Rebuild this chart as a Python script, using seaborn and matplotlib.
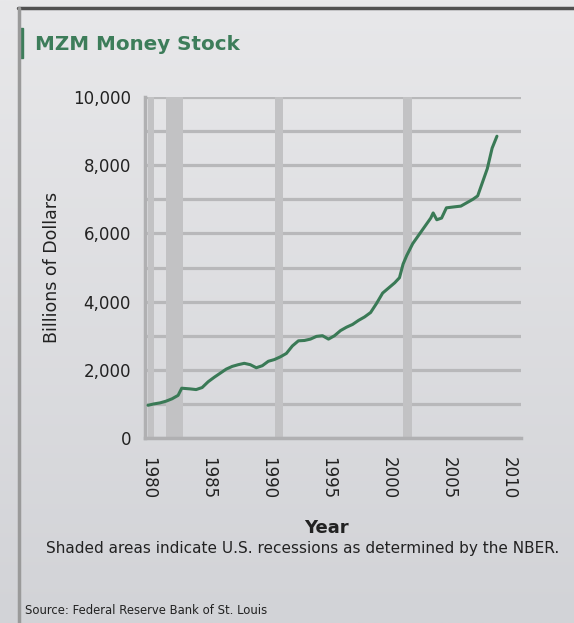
import numpy as np
import pandas as pd
import matplotlib
matplotlib.use("Agg")
import matplotlib.pyplot as plt
from matplotlib.lines import Line2D
from matplotlib.patches import Rectangle
import seaborn as sns

# ---- data ----
years = [1980.0, 1980.5, 1981.0, 1981.5, 1982.0, 1982.5, 1982.8, 1983.5, 1984.0, 1984.5,
         1985.0, 1985.5, 1986.0, 1986.5, 1987.0, 1987.5, 1988.0, 1988.5, 1989.0, 1989.5,
         1990.0, 1990.5, 1991.0, 1991.5, 1992.0, 1992.5, 1993.0, 1993.5, 1994.0, 1994.5,
         1995.0, 1995.5, 1996.0, 1996.5, 1997.0, 1997.5, 1998.0, 1998.5, 1999.0, 1999.5,
         2000.0, 2000.5, 2000.9, 2001.2, 2001.5, 2002.0, 2002.5, 2003.0, 2003.5, 2003.7,
         2004.0, 2004.4, 2004.8, 2005.5, 2006.0, 2006.5, 2007.0, 2007.4, 2007.8, 2008.2,
         2008.6, 2009.0]
mzm = [960, 1000, 1030, 1080, 1150, 1250, 1460, 1440, 1420, 1480,
       1650, 1780, 1900, 2020, 2100, 2150, 2190, 2150, 2060, 2120,
       2250, 2300, 2380, 2480, 2700, 2850, 2860, 2900, 2980, 3000,
       2900, 3000, 3150, 3250, 3330, 3450, 3550, 3680, 3950, 4250,
       4400, 4550, 4700, 5100, 5350, 5700, 5950, 6200, 6450, 6600,
       6400, 6450, 6750, 6780, 6800, 6900, 7000, 7100, 7500, 7900,
       8500, 8850]
recession_start = [1980.0, 1981.5, 1990.55, 2001.2]
recession_end = [1980.5, 1982.9, 1991.2, 2001.9]
x_ticks = [1980, 1985, 1990, 1995, 2000, 2005, 2010]
y_ticks = [0, 2000, 4000, 6000, 8000, 10000]
y_tick_labels = ["0", "2,000", "4,000", "6,000", "8,000", "10,000"]

df = pd.DataFrame({"Year": years, "MZM": mzm})

sns.set_style("white")
plt.rcParams["font.family"] = ["DejaVu Sans"]

W, H = 574, 623
fig = plt.figure(figsize=(W / 100, H / 100), dpi=100)

# background gradient
bg = fig.add_axes([0, 0, 1, 1], zorder=-10)
top = np.array([0xe8, 0xe8, 0xea]) / 255
bot = np.array([0xd2, 0xd3, 0xd7]) / 255
t = np.linspace(0, 1, 256)[:, None]
grad = (top[None, :] * (1 - t) + bot[None, :] * t)[:, None, :]
bg.imshow(grad, aspect="auto", extent=[0, 1, 0, 1])
bg.axis("off")

# frame lines and accent bar
fig.add_artist(Line2D([18 / W, 1], [1 - 8 / H] * 2, color="#505050", lw=2.5))
fig.add_artist(Line2D([19 / W] * 2, [0, 1 - 8 / H], color="#9a9a9a", lw=2.5))
fig.add_artist(Rectangle((19 / W, 1 - 58 / H), 4 / W, 30 / H, color="#3d7d5a",
                         transform=fig.transFigure))
fig.text(35 / W, 1 - 45 / H, "MZM Money Stock", color="#3d7d5a", fontsize=14.3,
         fontweight="bold", va="center", ha="left")

ax = fig.add_axes([145 / W, 1 - 438 / H, (521 - 145) / W, (438 - 97) / H])
ax.set_facecolor("none")

for s, e in zip(recession_start, recession_end):
    ax.axvspan(s, e, color="#c2c2c4", lw=0, zorder=1)

for yv in range(0, 10001, 1000):
    ax.axhline(yv, color="#b8b8ba", lw=2.3, zorder=0.5)

sns.lineplot(data=df, x="Year", y="MZM", ax=ax, color="#3a7a56", lw=2.2, zorder=3)

ax.set_xlim(1979.75, 2011.0)
ax.set_ylim(0, 10000)
ax.set_xticks(x_ticks)
ax.set_xticklabels([str(v) for v in x_ticks], rotation=-90, fontsize=12, color="#222222")
ax.set_yticks(y_ticks)
ax.set_yticklabels(y_tick_labels, fontsize=12, color="#222222")
ax.tick_params(axis="y", pad=10, length=0)
ax.tick_params(axis="x", pad=14, length=0)
for side in ["top", "right"]:
    ax.spines[side].set_visible(False)
ax.spines["left"].set_color("#b0b0b2")
ax.spines["left"].set_linewidth(2.5)
ax.spines["bottom"].set_color("#b0b0b2")
ax.spines["bottom"].set_linewidth(2.5)

ax.set_xlabel("Year", fontsize=13, fontweight="bold", color="#222222")
ax.xaxis.set_label_coords((326 - 145) / (521 - 145), -(528 - 438) / (438 - 97))
ax.xaxis.label.set_va("center")
ax.set_ylabel("Billions of Dollars", fontsize=12.5, color="#222222")
ax.yaxis.set_label_coords(-(145 - 52) / (521 - 145), 0.5)
ax.yaxis.label.set_va("center")

fig.text(303 / W, 1 - 548 / H, "Shaded areas indicate U.S. recessions as determined by the NBER.",
         fontsize=11, ha="center", va="center", color="#222222")
fig.text(25 / W, 1 - 610 / H, "Source: Federal Reserve Bank of St. Louis",
         fontsize=8.4, ha="left", va="center", color="#222222")

fig.savefig("out.png", dpi=100)
